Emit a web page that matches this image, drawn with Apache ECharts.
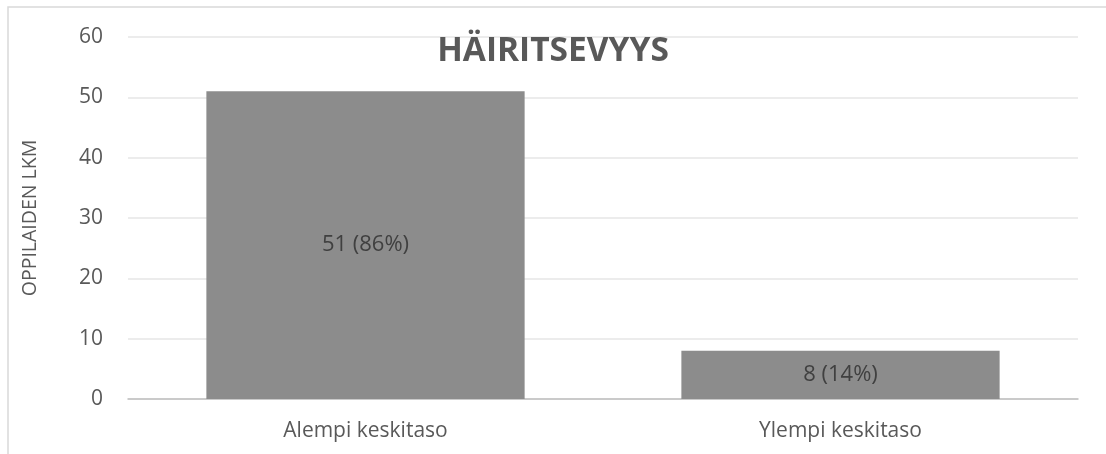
<!DOCTYPE html>
<html><head><meta charset="utf-8">
<script src="https://cdn.jsdelivr.net/npm/echarts@6/dist/echarts.min.js"></script>
<style>html,body{margin:0;padding:0;background:#fff}#c{width:1106px;height:454px}</style>
</head><body><div id="c"></div>
<script>
const categories = ['Alempi keskitaso', 'Ylempi keskitaso'];
const values = [51, 8];
const percents = [86, 14];
const yTicks = [0, 10, 20, 30, 40, 50, 60];

const chart = echarts.init(document.getElementById('c'), null, {renderer: 'canvas'});
const FONT = '"Open Sans", sans-serif';
chart.setOption({
  animation: false,
  backgroundColor: '#fff',
  graphic: [{
    type: 'rect', shape: {x: 8, y: 7, width: 1120, height: 470},
    style: {fill: 'none', stroke: '#d9d9d9', lineWidth: 1.5}, silent: true, z: -1
  }],
  title: {
    text: 'HÄIRITSEVYYS', left: 'center', top: 29,
    textStyle: {fontFamily: FONT, fontWeight: 'bold', fontSize: 33.5, color: '#595959'}
  },
  grid: {left: 128, right: 28, top: 37, bottom: 55},
  xAxis: {
    type: 'category', data: categories,
    axisLine: {lineStyle: {color: '#bfbfbf', width: 1.5}},
    axisTick: {show: false},
    axisLabel: {fontFamily: FONT, fontSize: 21, color: '#595959', margin: 22}
  },
  yAxis: {
    type: 'value', min: yTicks[0], max: yTicks[yTicks.length - 1], interval: 10,
    name: 'OPPILAIDEN LKM', nameLocation: 'middle', nameGap: 88, nameRotate: 90,
    nameTextStyle: {fontFamily: FONT, fontSize: 19.5, color: '#595959'},
    axisLine: {show: false}, axisTick: {show: false},
    splitLine: {lineStyle: {color: '#e6e6e6', width: 1.5}},
    axisLabel: {fontFamily: FONT, fontSize: 21, color: '#595959', margin: 25}
  },
  series: [{
    type: 'bar', data: values, barWidth: '67%',
    itemStyle: {color: '#8c8c8c'},
    label: {
      show: true, position: 'inside', fontFamily: FONT, fontSize: 22, color: '#404040',
      formatter: p => values[p.dataIndex] + ' (' + percents[p.dataIndex] + '%)'
    }
  }]
});
</script></body></html>
